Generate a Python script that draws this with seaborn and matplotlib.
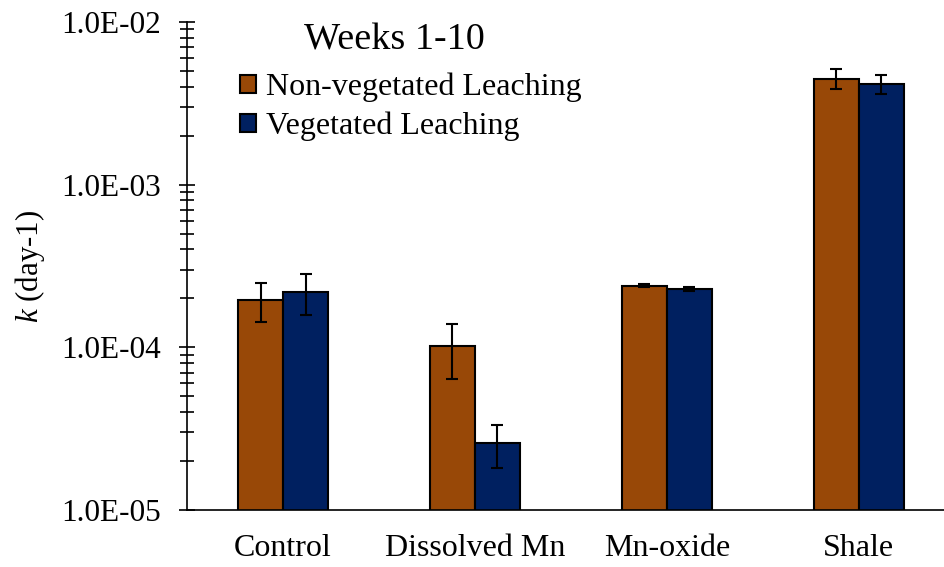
import matplotlib
matplotlib.use('Agg')
import matplotlib.pyplot as plt
import seaborn as sns
import pandas as pd
from matplotlib.ticker import LogLocator, FuncFormatter, NullFormatter

categories = ["Control", "Dissolved Mn", "Mn-oxide", "Shale"]
series_names = ["Non-vegetated Leaching", "Vegetated Leaching"]
nonveg_values = [1.96e-4, 1.02e-4, 2.39e-4, 4.49e-3]
nonveg_errors = [5.3e-5, 3.8e-5, 5e-6, 6.4e-4]
veg_values = [2.2e-4, 2.58e-5, 2.28e-4, 4.17e-3]
veg_errors = [6.1e-5, 7.7e-6, 6e-6, 5.7e-4]
legend_title = "Weeks 1-10"
colors = ["#984807", "#002060"]

sns.set_theme(style='white')
plt.rcParams['font.family'] = ['Liberation Serif', 'DejaVu Serif']
plt.rcParams['mathtext.fontset'] = 'custom'
plt.rcParams['mathtext.it'] = 'Liberation Serif:italic'
plt.rcParams['mathtext.rm'] = 'Liberation Serif'
for key in ['text.color', 'axes.labelcolor', 'xtick.color', 'ytick.color']:
    plt.rcParams[key] = 'black'

df = pd.DataFrame({
    'category': categories * 2,
    'series': [series_names[0]] * len(categories) + [series_names[1]] * len(categories),
    'k': nonveg_values + veg_values,
})

fig = plt.figure(figsize=(9.45, 5.67), dpi=100)
ax = fig.add_axes([0.198, 0.1005, 0.802, 0.8607])
ax.set_yscale('log')
sns.barplot(data=df, x='category', y='k', hue='series', order=categories,
            hue_order=series_names, palette=colors, width=0.47, errorbar=None,
            edgecolor='black', linewidth=1.5, saturation=1, ax=ax)

for cont, vals, errs in zip(ax.containers, [nonveg_values, veg_values], [nonveg_errors, veg_errors]):
    xs = [p.get_x() + p.get_width() / 2 for p in cont]
    ax.errorbar(xs, vals, yerr=errs, fmt='none', ecolor='black', elinewidth=1.5,
                capsize=4.3, capthick=1.5, zorder=5)

ax.set_ylim(1e-5, 1e-2)
ax.set_xlim(-0.5, 3.45)
ax.yaxis.set_major_locator(LogLocator(base=10))
ax.yaxis.set_minor_locator(LogLocator(base=10, subs=range(2, 10)))
ax.yaxis.set_major_formatter(FuncFormatter(lambda v, p: f"{v:.1E}"))
ax.yaxis.set_minor_formatter(NullFormatter())
ax.tick_params(axis='y', which='major', direction='inout', length=12, width=1.2,
               labelsize=22.5, pad=13, left=True, color='black')
ax.tick_params(axis='y', which='minor', direction='inout', length=9.5, width=1.2,
               left=True, color='black')
ax.tick_params(axis='x', length=0, labelsize=23, pad=17)

for s in ['top', 'right']:
    ax.spines[s].set_visible(False)
for s in ['left', 'bottom']:
    ax.spines[s].set_color('black')
    ax.spines[s].set_linewidth(1.2)

ax.set_xlabel('')
ax.set_ylabel('$k$ (day-1)', fontsize=22.3)
ax.yaxis.set_label_coords(-0.185, 0.5)

leg = ax.legend(loc='upper left', bbox_to_anchor=(0.254, 0.872),
                bbox_transform=fig.transFigure, frameon=False, fontsize=23,
                handlelength=0.5, handleheight=0.5,
                handletextpad=0.3, labelspacing=0.3, borderaxespad=0, borderpad=0)
fig.text(0.417, 1 - 50 / 567, legend_title, fontsize=27.5, ha='center', va='baseline')

fig.savefig('out.png', dpi=100)
